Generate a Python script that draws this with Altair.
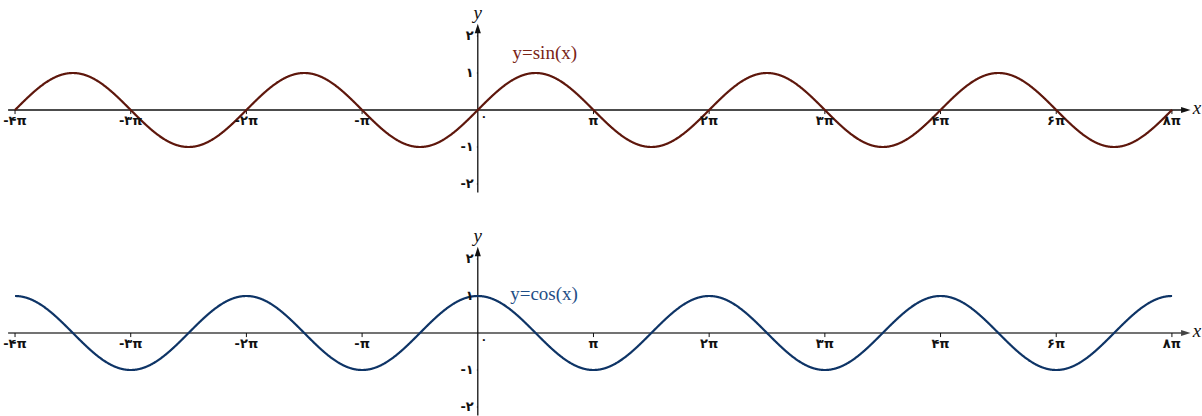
import math
import pandas as pd
import altair as alt

PI = math.pi

# x ticks in multiples of pi and their Persian labels
x_ticks = [-4, -3, -2, -1, 1, 2, 3, 4, 5, 6]
x_tick_labels = ["-۴π", "-۳π", "-۲π", "-π", "π", "۲π", "۳π", "۴π", "۶π", "۸π"]
zero_label = ["۰"]
y_ticks = [2, 1, -1, -2]
y_tick_labels = ["۲", "۱", "-۱", "-۲"]

curve_range = [-4, 6]      # plotted interval, multiples of pi
view_x = [-4.13, 6.26]     # visible x range, multiples of pi
axis_x = [-4.06, 6.12]     # x-axis line extent, multiples of pi
axis_y = [-2.23, 2.2]      # y-axis line extent

W = 1202
TICK_FONT = "DejaVu Sans"
MATH_FONT = "Liberation Serif"

xs = alt.Scale(domain=[view_x[0] * PI, view_x[1] * PI], nice=False, zero=False)


def panel(func, line_color, label_color, label, label_xy, height, y_dom, xaxis_color):
    ys = alt.Scale(domain=y_dom, nice=False, zero=False)
    X = lambda f: alt.X(f, type="quantitative", scale=xs, axis=None)
    Y = lambda f: alt.Y(f, type="quantitative", scale=ys, axis=None)

    curve = (
        alt.Chart(alt.sequence(curve_range[0] * PI, curve_range[1] * PI + 0.005, 0.01, as_="x"))
        .transform_calculate(y=f"{func}(datum.x)")
        .mark_line(color=line_color, strokeWidth=2.2)
        .encode(x=X("x"), y=Y("y"))
    )

    xaxis_df = pd.DataFrame({"x0": [axis_x[0] * PI], "x1": [axis_x[1] * PI], "y": [0]})
    xaxis = alt.Chart(xaxis_df).mark_rule(color=xaxis_color, strokeWidth=1.3).encode(
        x=X("x0"), x2="x1", y=Y("y")
    )
    xarrow = alt.Chart(xaxis_df).mark_point(
        shape="M-1,-0.65L1,0L-1,0.65Z", filled=True, size=90, color=xaxis_color, opacity=1
    ).encode(x=X("x1"), y=Y("y"))
    xname = alt.Chart(xaxis_df).mark_text(
        text="x", font=MATH_FONT, fontStyle="italic", fontSize=19, color="#111",
        align="left", baseline="middle", dx=7, dy=-2
    ).encode(x=X("x1"), y=Y("y"))

    yaxis_df = pd.DataFrame({"x": [0], "y0": [axis_y[0]], "y1": [axis_y[1]]})
    yaxis = alt.Chart(yaxis_df).mark_rule(color="#111", strokeWidth=1.3).encode(
        x=X("x"), y=Y("y0"), y2="y1"
    )
    yarrow = alt.Chart(yaxis_df).mark_point(
        shape="M-0.65,1L0,-1L0.65,1Z", filled=True, size=90, color="#111", opacity=1
    ).encode(x=X("x"), y=Y("y1"))
    yname = alt.Chart(yaxis_df).mark_text(
        text="y", font=MATH_FONT, fontStyle="italic", fontSize=19, color="#111",
        align="center", baseline="bottom", dy=-6
    ).encode(x=X("x"), y=Y("y1"))

    xt_df = pd.DataFrame({"k": x_ticks, "label": x_tick_labels})
    xt_base = alt.Chart(xt_df).transform_calculate(x="datum.k * PI", y="0")
    xtick = xt_base.mark_rule(color="#111", strokeWidth=1).encode(
        x=X("x"), y=Y("y"), y2=alt.datum(-0.11)
    )
    xlab = xt_base.mark_text(
        font=TICK_FONT, fontSize=13, fontWeight="bold", color="#111", baseline="middle", dy=11
    ).encode(x=X("x"), y=Y("y"), text="label:N")

    zero_df = pd.DataFrame({"x": [0], "y": [0], "label": zero_label})
    zlab = alt.Chart(zero_df).mark_text(
        font=TICK_FONT, fontSize=11, fontWeight="bold", color="#111", baseline="middle", dx=6, dy=7
    ).encode(x=X("x"), y=Y("y"), text="label:N")

    yt_df = pd.DataFrame({"v": y_ticks, "label": y_tick_labels, "x": [0] * len(y_ticks)})
    yt_base = alt.Chart(yt_df)
    ytick = yt_base.mark_rule(color="#111", strokeWidth=1).encode(
        x=X("x"), x2=alt.datum(-0.025), y=Y("v")
    )
    ylab = yt_base.mark_text(
        font=TICK_FONT, fontSize=13, fontWeight="bold", color="#111", align="right",
        baseline="middle", dx=-4
    ).encode(x=X("x"), y=Y("v"), text="label:N")

    lab_df = pd.DataFrame({"x": [label_xy[0] * PI], "y": [label_xy[1]], "t": [label]})
    flabel = alt.Chart(lab_df).mark_text(
        font=MATH_FONT, fontSize=19, color=label_color, align="left", baseline="middle"
    ).encode(x=X("x"), y=Y("y"), text="t:N")

    return alt.layer(
        xaxis, yaxis, xtick, ytick, curve, xarrow, yarrow, xname, yname, xlab, zlab, ylab, flabel
    ).properties(width=W, height=height)


top = panel("sin", "#5e170c", "#7a2416", "y=sin(x)", (0.30, 1.55), 220, [-2.973, 2.973], "#111")
bottom = panel("cos", "#0e3466", "#1f4e86", "y=cos(x)", (0.28, 1.05), 196, [-2.243, 3.054], "#444")

chart = (
    alt.vconcat(top, bottom, spacing=0)
    .properties(padding=0, background="white")
    .configure_view(stroke=None)
)

chart.save("out.html", embed_options={"renderer": "svg", "actions": False})
